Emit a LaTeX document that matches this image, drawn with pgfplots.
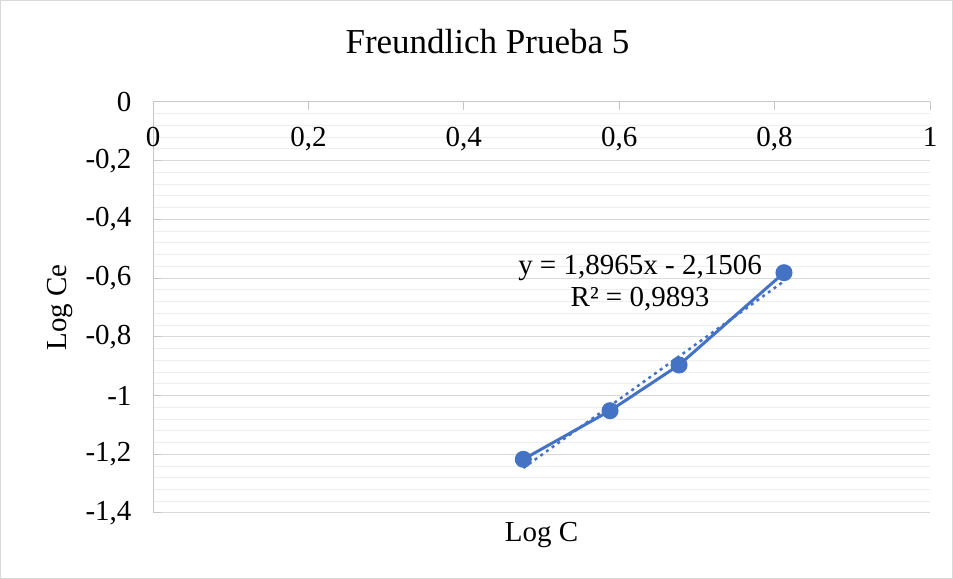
\documentclass[border=0pt]{standalone}
\usepackage{fontspec}
\setmainfont{Liberation Serif}
\usepackage{pgfplots}
\pgfplotsset{compat=1.18}
\definecolor{xlblue}{HTML}{4472C4}
\definecolor{axgray}{HTML}{C6C6C6}
\definecolor{majgrid}{HTML}{D9D9D9}
\definecolor{mingrid}{HTML}{EEEEEE}
\definecolor{framegray}{HTML}{D9D9D9}
\newcommand{\lbl}{\fontsize{29bp}{32bp}\selectfont}
\begin{document}
\begin{tikzpicture}
\useasboundingbox (0,0) rectangle (953bp,579bp);
\begin{axis}[
  at={(153bp,66bp)}, anchor=south west,
  scale only axis, width=777bp, height=411bp,
  xmin=0, xmax=1, ymin=-1.4, ymax=0,
  axis x line*=top, axis y line*=left,
  axis line style={axgray, line width=1bp, -},
  xtick={0,0.2,0.4,0.6,0.8,1},
  ytick={-1.4,-1.2,-1,-0.8,-0.6,-0.4,-0.2,0},
  minor y tick num=4,
  ymajorgrids, yminorgrids,
  major grid style={majgrid, line width=1bp},
  minor grid style={mingrid, line width=1bp},
  tick align=inside, major tick length=8bp, minor tick length=0pt,
  tick style={axgray, line width=1bp},
  /pgf/number format/use comma,
  /pgf/number format/assume math mode=true,
  ticklabel style={font=\lbl, text=black},
  xticklabel style={anchor=north, yshift=-22bp},
  yticklabel style={xshift=-18bp},
  title={Freundlich Prueba 5},
  title style={font=\fontsize{35bp}{40bp}\selectfont, at={(axis description cs:0.4305,1.1039)}, anchor=base},
  xlabel={Log C},
  xlabel style={font=\lbl, at={(axis description cs:0.5,0)}, anchor=base, yshift=-29bp},
  ylabel={Log Ce},
  ylabel style={font=\lbl, at={(axis description cs:-0.1111,0.5)}, anchor=base},
  clip=false,
]
\addplot[xlblue, line width=2.5bp, dash pattern=on 3bp off 4bp] coordinates {(0.4766,-1.2467) (0.8121,-0.6105)};
\addplot[xlblue, line width=3bp, mark=*, mark size=7bp, mark options={solid, fill=xlblue}] coordinates {
  (0.4766,-1.2171) (0.5882,-1.0515) (0.6770,-0.8959) (0.8121,-0.5815)};
\node[font=\lbl, align=center] at (axis cs:0.6268,-0.6166) {y = 1,8965x - 2,1506\\R² = 0,9893};
\end{axis}
\draw[framegray, line width=1bp] (0.5bp,0.5bp) rectangle (952.5bp,578.5bp);
\end{tikzpicture}
\end{document}
